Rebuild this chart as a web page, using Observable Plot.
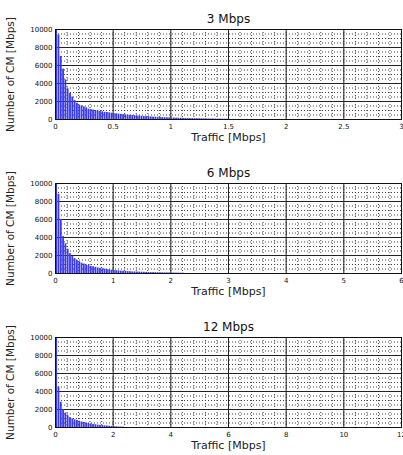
<!DOCTYPE html>
<html>
<head>
<meta charset="utf-8">
<script src="https://cdn.jsdelivr.net/npm/d3@7"></script>
<script src="https://cdn.jsdelivr.net/npm/@observablehq/plot@0.6"></script>
<style>
  body { margin: 0; background: #fff; }
  #chart { width: 403px; }
  #chart svg { display: block; }
</style>
</head>
<body>
<div id="chart"></div>
<script>
// ---- data ----
const titles = ["3 Mbps", "6 Mbps", "12 Mbps"];
const xMax = [3, 6, 12];
const binWidths = [0.02, 0.04, 0.08];
const xTickSteps = [0.5, 1, 2];
const yTicks = [0, 2000, 4000, 6000, 8000, 10000];
const xLabel = "Traffic [Mbps]";
const yLabel = "Number of CM [Mbps]";

const counts3 = [10000, 9400, 7000, 5600, 4400, 3400, 2900, 2500, 2100, 1800,
  1600, 1500, 1400, 1300, 1150, 1100, 1050, 1000, 950, 900,
  850, 800, 780, 740, 700, 660, 630, 600, 570, 540,
  510, 490, 460, 440, 420, 400, 380, 360, 340, 320,
  300, 285, 270, 255, 240, 225, 210, 200, 190, 180,
  170, 160, 150, 140, 135, 125, 120, 110, 105, 100,
  95, 90, 85, 80, 75, 70, 65, 60, 55, 50,
  45, 42, 38, 35, 30, 25];
const counts6 = [10000, 8800, 6000, 4100, 3300, 2700, 2200, 1900, 1650, 1450,
  1300, 1150, 1050, 950, 880, 800, 740, 680, 620, 570,
  520, 480, 440, 400, 370, 340, 310, 290, 270, 250,
  230, 210, 195, 180, 170, 160, 150, 140, 130, 120,
  110, 100, 95, 90, 85, 80, 75, 70, 65, 60,
  55, 50, 45, 40, 35, 30];
const counts12 = [10000, 4500, 2800, 2000, 1600, 1300, 1100, 950, 850, 780,
  700, 620, 560, 500, 450, 400, 350, 310, 270, 240,
  210, 180, 160, 140, 120, 100, 80, 60, 50, 40];
const allCounts = [counts3, counts6, counts12];

// ---- drawing ----
const chart = document.getElementById("chart");
const font = "DejaVu Sans, Verdana, sans-serif";

titles.forEach((title, k) => {
  const bw = binWidths[k];
  const data = allCounts[k].map((n, i) => ({x0: i * bw, x1: (i + 1) * bw, n}));
  const step = xTickSteps[k];
  const majorX = d3.range(0, xMax[k] + step / 2, step).map(v => +v.toFixed(4));
  const minorX = d3.range(0, xMax[k] + 1e-9, step / 5).map(v => +v.toFixed(4));
  const minorY = d3.range(0, 10001, 500);

  const svg = Plot.plot({
    width: 403,
    height: 154,
    marginLeft: 55,
    marginRight: 2,
    marginTop: 29,
    marginBottom: 35,
    style: {fontFamily: font, fontSize: "7px", color: "#111", background: "#fff"},
    x: {domain: [0, xMax[k]], ticks: majorX, tickSize: 0, tickPadding: 5, label: null, tickFormat: d => String(d)},
    y: {domain: [0, 10000], ticks: yTicks, tickSize: 0, tickPadding: 3, label: null, tickFormat: d3.format("d")},
    marks: [
      Plot.ruleX(minorX, {stroke: "#444", strokeWidth: 1, strokeDasharray: "1,2"}),
      Plot.ruleY(minorY, {stroke: "#444", strokeWidth: 1, strokeDasharray: "1,2"}),
      Plot.ruleX(majorX, {stroke: "#222", strokeWidth: 1}),
      Plot.ruleY(yTicks, {stroke: "#222", strokeWidth: 1}),
      Plot.rectY(data, {x1: "x0", x2: "x1", y: "n", fill: "#3a3af2", insetLeft: 0.25, insetRight: 0.25, clip: true}),
      Plot.frame({stroke: "#111"}),
      Plot.text([title], {frameAnchor: "top", dy: -15, fontSize: 12, fill: "#111", textAnchor: "middle"}),
      Plot.text([xLabel], {frameAnchor: "bottom", dy: 21, fontSize: 11, fill: "#222", textAnchor: "middle"}),
      Plot.text([yLabel], {frameAnchor: "left", dx: -45, rotate: -90, fontSize: 10.5, fill: "#222", textAnchor: "middle"})
    ]
  });
  chart.appendChild(svg);
});
</script>
</body>
</html>
